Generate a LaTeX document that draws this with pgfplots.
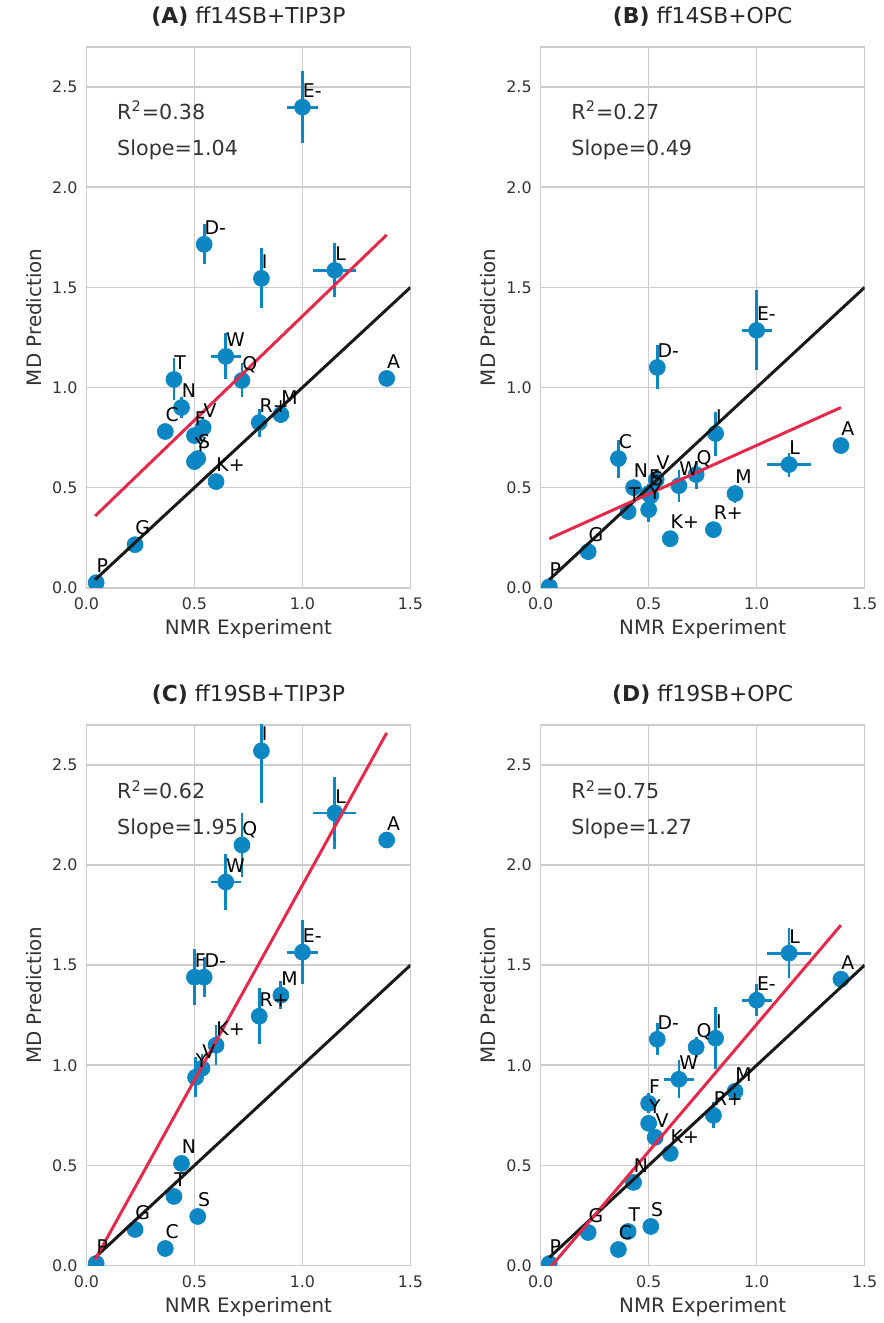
\documentclass[border=0pt]{standalone}
\usepackage{fontspec}
\setmainfont{DejaVu Sans}
\usepackage{pgfplots}
\usepackage{pgfplotstable}
\pgfplotsset{compat=1.18}

\definecolor{ptblue}{HTML}{0C87C4}
\definecolor{fitred}{HTML}{E6294B}
\definecolor{gridgray}{HTML}{CCCCCC}
\definecolor{txtgray}{HTML}{333333}

% x y xerr yerr label
\pgfplotstableread{
x y ex ey lab
0.045 0.025 0 0 P
0.225 0.215 0 0 G
0.365 0.78 0 0.03 C
0.405 1.04 0 0.105 T
0.44 0.90 0 0.05 N
0.50 0.76 0 0.04 F
0.50 0.63 0 0.03 Y
0.515 0.645 0 0.03 S
0.54 0.80 0 0.05 V
0.545 1.715 0 0.10 D-
0.60 0.53 0 0 K+
0.645 1.155 0.07 0.115 W
0.72 1.035 0 0.085 Q
0.80 0.825 0 0.07 R+
0.81 1.545 0 0.15 I
0.90 0.865 0 0.04 M
1.00 2.40 0.07 0.18 E-
1.15 1.585 0.10 0.135 L
1.39 1.045 0 0 A
}\dataA

\pgfplotstableread{
x y ex ey lab
0.04 0.005 0 0 P
0.22 0.18 0 0 G
0.36 0.645 0 0.095 C
0.405 0.38 0 0.04 T
0.43 0.50 0 0.04 N
0.50 0.39 0 0.06 Y
0.50 0.47 0 0.05 F
0.51 0.46 0 0.05 S
0.535 0.54 0 0.05 V
0.54 1.10 0 0.11 D-
0.60 0.245 0 0 K+
0.64 0.51 0 0.08 W
0.72 0.565 0 0.07 Q
0.80 0.29 0 0 R+
0.81 0.77 0 0.11 I
0.90 0.47 0 0.045 M
1.00 1.285 0.07 0.20 E-
1.15 0.615 0.10 0.06 L
1.39 0.71 0 0 A
}\dataB

\pgfplotstableread{
x y ex ey lab
0.045 0.01 0 0 P
0.225 0.18 0 0 G
0.365 0.085 0 0 C
0.405 0.345 0 0.03 T
0.44 0.51 0 0 N
0.515 0.245 0 0 S
0.505 0.94 0 0.10 Y
0.535 0.985 0 0.07 V
0.50 1.44 0 0.14 F
0.545 1.44 0 0.10 D-
0.60 1.10 0 0.10 K+
0.645 1.915 0.07 0.14 W
0.72 2.10 0 0.16 Q
0.80 1.245 0 0.14 R+
0.81 2.57 0 0.26 I
0.90 1.35 0 0.07 M
1.00 1.565 0.07 0.16 E-
1.15 2.26 0.10 0.18 L
1.39 2.125 0 0 A
}\dataC

\pgfplotstableread{
x y ex ey lab
0.04 0.01 0 0 P
0.22 0.165 0 0 G
0.36 0.08 0 0 C
0.405 0.17 0 0 T
0.51 0.195 0 0 S
0.43 0.415 0 0 N
0.60 0.56 0 0 K+
0.53 0.64 0 0.04 V
0.50 0.71 0 0.04 Y
0.50 0.81 0 0.05 F
0.80 0.75 0 0.065 R+
0.90 0.87 0 0.03 M
0.64 0.93 0.07 0.095 W
0.72 1.09 0 0.05 Q
0.54 1.13 0 0.08 D-
0.81 1.135 0 0.155 I
1.00 1.325 0.07 0.08 E-
1.39 1.43 0 0 A
1.15 1.56 0.10 0.125 L
}\dataD

\tikzset{stat/.style={anchor=base west, font=\fontsize{10.4}{12}\selectfont, text=txtgray}}

\pgfplotsset{
  panel/.style={
    scale only axis, width=163pt, height=272pt,
    xmin=0, xmax=1.5, ymin=0, ymax=2.7,
    xtick={0,0.5,1,1.5}, ytick={0,0.5,1,1.5,2,2.5},
    grid=major, grid style={gridgray, line width=0.8pt},
    axis line style={gridgray, line width=0.8pt},
    major tick length=0pt,
    clip marker paths=true,
    /pgf/number format/fixed, /pgf/number format/fixed zerofill,
    /pgf/number format/precision=1,
    /pgf/number format/assume math mode=true,
    ticklabel style={font=\fontsize{8}{9}\selectfont, text=txtgray},
    xticklabel style={yshift=-1.5pt},
    yticklabel style={xshift=-1pt},
    xlabel={NMR Experiment}, ylabel={MD Prediction},
    label style={font=\fontsize{10}{12}\selectfont, text=txtgray},
    xlabel style={at={(axis description cs:0.5,-0.0864)}, anchor=base},
    ylabel style={at={(axis description cs:-0.138,0.5)}, anchor=base},
    title style={at={(axis description cs:0.5,1)}, anchor=base, yshift=6pt,
      font=\fontsize{11}{13}\selectfont, text=black!85},
  },
  pts/.style={only marks, mark=*, mark size=4pt, color=ptblue,
    error bars/.cd, x dir=both, x explicit, y dir=both, y explicit,
    error mark=none, error bar style={line width=1.4pt, ptblue}},
  labs/.style={draw=none, no marks, point meta=explicit symbolic,
    nodes near coords,
    every node near coord/.append style={anchor=base west, inner sep=0pt,
      yshift=5pt, font=\fontsize{9.5}{11}\selectfont, text=black}},
  fit/.style={fitred, line width=1.5pt, no marks},
  diag/.style={black!90, line width=1.5pt, no marks},
}

\begin{document}
\begin{tikzpicture}
\path (0,0) rectangle (442pt,661.5pt);

\begin{axis}[panel, at={(43.5pt,367.5pt)}, title={\textbf{(A)} ff14SB+TIP3P}]
\addplot[pts] table[x=x, y=y, x error=ex, y error=ey] {\dataA};
\addplot[diag] coordinates {(0.04,0.04) (1.5,1.5)};
\addplot[fit] coordinates {(0.04,0.358) (1.39,1.762)};
\addplot[labs] table[x=x, y=y, meta=lab] {\dataA};
\node[stat] at (axis cs:0.11,2.34) {R\textsuperscript{2}=0.38};
\node[stat] at (axis cs:0.11,2.16) {Slope=1.04};
\end{axis}

\begin{axis}[panel, at={(272pt,367.5pt)}, title={\textbf{(B)} ff14SB+OPC}]
\addplot[pts] table[x=x, y=y, x error=ex, y error=ey] {\dataB};
\addplot[diag] coordinates {(0.04,0.04) (1.5,1.5)};
\addplot[fit] coordinates {(0.04,0.245) (1.39,0.90)};
\addplot[labs] table[x=x, y=y, meta=lab] {\dataB};
\node[stat] at (axis cs:0.11,2.34) {R\textsuperscript{2}=0.27};
\node[stat] at (axis cs:0.11,2.16) {Slope=0.49};
\end{axis}

\begin{axis}[panel, at={(43.5pt,26.5pt)}, title={\textbf{(C)} ff19SB+TIP3P}]
\addplot[pts] table[x=x, y=y, x error=ex, y error=ey] {\dataC};
\addplot[diag] coordinates {(0.04,0.04) (1.5,1.5)};
\addplot[fit] coordinates {(0.04,0.03) (1.39,2.66)};
\addplot[labs] table[x=x, y=y, meta=lab] {\dataC};
\node[stat] at (axis cs:0.11,2.33) {R\textsuperscript{2}=0.62};
\node[stat] at (axis cs:0.11,2.155) {Slope=1.95};
\end{axis}

\begin{axis}[panel, at={(272pt,26.5pt)}, title={\textbf{(D)} ff19SB+OPC}]
\addplot[pts] table[x=x, y=y, x error=ex, y error=ey] {\dataD};
\addplot[diag] coordinates {(0.04,0.04) (1.5,1.5)};
\addplot[fit] coordinates {(0.04,-0.015) (1.39,1.70)};
\addplot[labs] table[x=x, y=y, meta=lab] {\dataD};
\node[stat] at (axis cs:0.11,2.33) {R\textsuperscript{2}=0.75};
\node[stat] at (axis cs:0.11,2.155) {Slope=1.27};
\end{axis}
\end{tikzpicture}
\end{document}
